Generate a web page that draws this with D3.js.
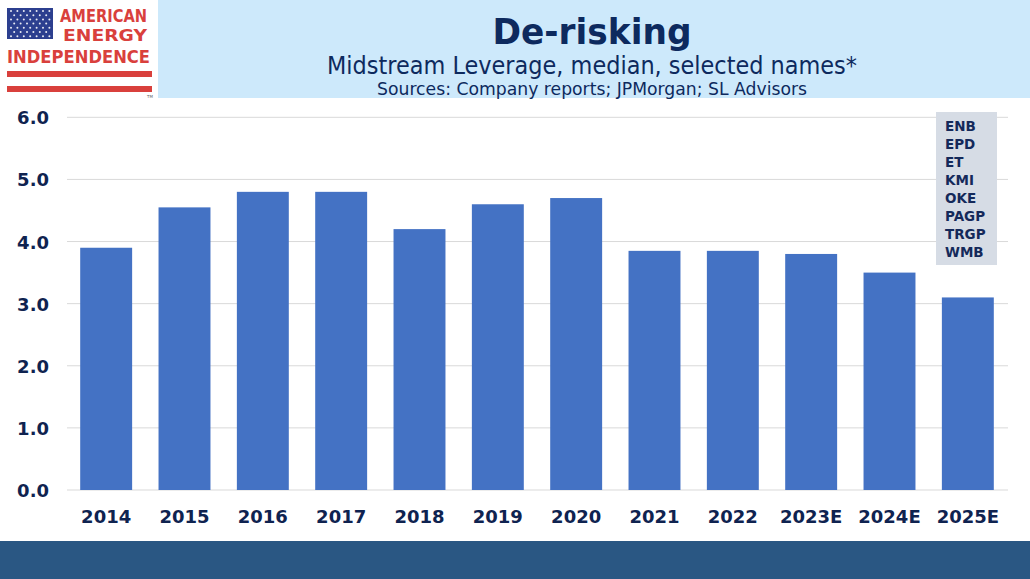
<!DOCTYPE html>
<html>
<head>
<meta charset="utf-8">
<script src="https://cdn.jsdelivr.net/npm/d3@7/dist/d3.min.js"></script>
<style>
  html, body { margin: 0; padding: 0; background: #ffffff; }
  svg { display: block; }
</style>
</head>
<body>
<svg id="chart" width="1030" height="579"></svg>
<script>
// ---- data ----
const categories = ["2014", "2015", "2016", "2017", "2018", "2019", "2020", "2021", "2022", "2023E", "2024E", "2025E"];
const leverage = [3.9, 4.55, 4.8, 4.8, 4.2, 4.6, 4.7, 3.85, 3.85, 3.8, 3.5, 3.1];
const yTicks = [0, 1, 2, 3, 4, 5, 6];
const companyNames = ["ENB", "EPD", "ET", "KMI", "OKE", "PAGP", "TRGP", "WMB"];
const titleText = "De-risking";
const subtitleText = "Midstream Leverage, median, selected names*";
const sourceText = "Sources: Company reports; JPMorgan; SL Advisors";

const svg = d3.select("#chart");
const W = 1030, H = 579;
const navy = "#0f2350";
const font = "'DejaVu Sans', Verdana, sans-serif";

// ---- header band ----
svg.append("rect").attr("x", 158).attr("y", 0).attr("width", W - 158).attr("height", 98).attr("fill", "#cde9fb");

function fitText(sel, w) {
  sel.attr("textLength", w).attr("lengthAdjust", "spacingAndGlyphs");
}
const hx = 592;
svg.append("text").attr("x", hx).attr("y", 43.5).attr("text-anchor", "middle")
  .attr("font-family", font).attr("font-weight", "bold").attr("font-size", 36)
  .attr("fill", "#0d2a5e").text(titleText).call(fitText, 199);
svg.append("text").attr("x", hx).attr("y", 74).attr("text-anchor", "middle")
  .attr("font-family", font).attr("font-size", 24)
  .attr("fill", "#0d2a5e").text(subtitleText).call(fitText, 530);
svg.append("text").attr("x", hx).attr("y", 95).attr("text-anchor", "middle")
  .attr("font-family", font).attr("font-size", 17)
  .attr("fill", "#0d2a5e").text(sourceText).call(fitText, 430);

// ---- logo ----
const logo = svg.append("g");
const red = "#d9403c";
logo.append("rect").attr("x", 7).attr("y", 8).attr("width", 46).attr("height", 31).attr("fill", "#2c3f8f");
for (let r = 0; r < 7; r++) {
  const n = r % 2 === 0 ? 7 : 6;
  for (let c = 0; c < n; c++) {
    logo.append("circle")
      .attr("cx", 7 + (r % 2 === 0 ? 4 : 7.2) + c * 6.4)
      .attr("cy", 11 + r * 4.2)
      .attr("r", 1).attr("fill", "#ffffff").attr("opacity", 0.9);
  }
}
logo.append("text").attr("x", 60).attr("y", 22).attr("font-family", font).attr("font-weight", "bold")
  .attr("font-size", 17.5).attr("fill", red).text("AMERICAN").call(fitText, 87);
logo.append("text").attr("x", 63).attr("y", 41).attr("font-family", font).attr("font-weight", "bold")
  .attr("font-size", 16.5).attr("fill", red).text("ENERGY").call(fitText, 84);
logo.append("text").attr("x", 7).attr("y", 63).attr("font-family", font).attr("font-weight", "bold")
  .attr("font-size", 18.5).attr("fill", red).text("INDEPENDENCE").call(fitText, 143);
logo.append("rect").attr("x", 7).attr("y", 71).attr("width", 145).attr("height", 6).attr("fill", red);
logo.append("rect").attr("x", 7).attr("y", 86).attr("width", 145).attr("height", 6).attr("fill", red);
logo.append("text").attr("x", 147).attr("y", 98).attr("font-family", font).attr("font-size", 4)
  .attr("fill", "#666").text("TM");

// ---- scales ----
const x = d3.scaleBand().domain(categories).range([67, 1007]).paddingInner(0.337).paddingOuter(0.1685);
const y = d3.scaleLinear().domain([0, 6]).range([490, 117.3]);

// ---- gridlines ----
svg.append("g").selectAll("line").data(yTicks).join("line")
  .attr("x1", 67).attr("x2", 1008)
  .attr("y1", d => y(d)).attr("y2", d => y(d))
  .attr("stroke", "#d9d9d9").attr("stroke-width", 1);

// ---- y axis labels ----
const yAxis = d3.axisLeft(y).tickValues(yTicks).tickFormat(d3.format(".1f")).tickSize(0).tickPadding(0);
const gy = svg.append("g").attr("transform", "translate(49,0)").call(yAxis);
gy.select(".domain").remove();
gy.selectAll("text").attr("font-family", font).attr("font-weight", "bold").attr("font-size", 18)
  .attr("fill", navy).attr("dy", "0.36em");

// ---- bars ----
svg.append("g").selectAll("rect").data(categories).join("rect")
  .attr("x", d => x(d)).attr("width", x.bandwidth())
  .attr("y", (d, i) => y(leverage[i]))
  .attr("height", (d, i) => y(0) - y(leverage[i]))
  .attr("fill", "#4472c4");

// ---- x axis labels ----
const xAxis = d3.axisBottom(x).tickSize(0).tickPadding(0);
const gx = svg.append("g").attr("transform", "translate(0,490)").call(xAxis);
gx.select(".domain").remove();
gx.selectAll("text").attr("font-family", font).attr("font-weight", "bold").attr("font-size", 18)
  .attr("fill", navy).attr("dy", 0).attr("y", 32.5);

// ---- names box ----
svg.append("rect").attr("x", 936).attr("y", 112).attr("width", 61).attr("height", 153).attr("fill", "#d6dce5");
svg.append("g").selectAll("text").data(companyNames).join("text")
  .attr("x", 945).attr("y", (d, i) => 130.5 + i * 18.1)
  .attr("font-family", font).attr("font-weight", "bold").attr("font-size", 13.5)
  .attr("fill", "#14295a").text(d => d);

// ---- bottom band ----
svg.append("rect").attr("x", 0).attr("y", 541).attr("width", W).attr("height", H - 541).attr("fill", "#2a5783");
</script>
</body>
</html>
